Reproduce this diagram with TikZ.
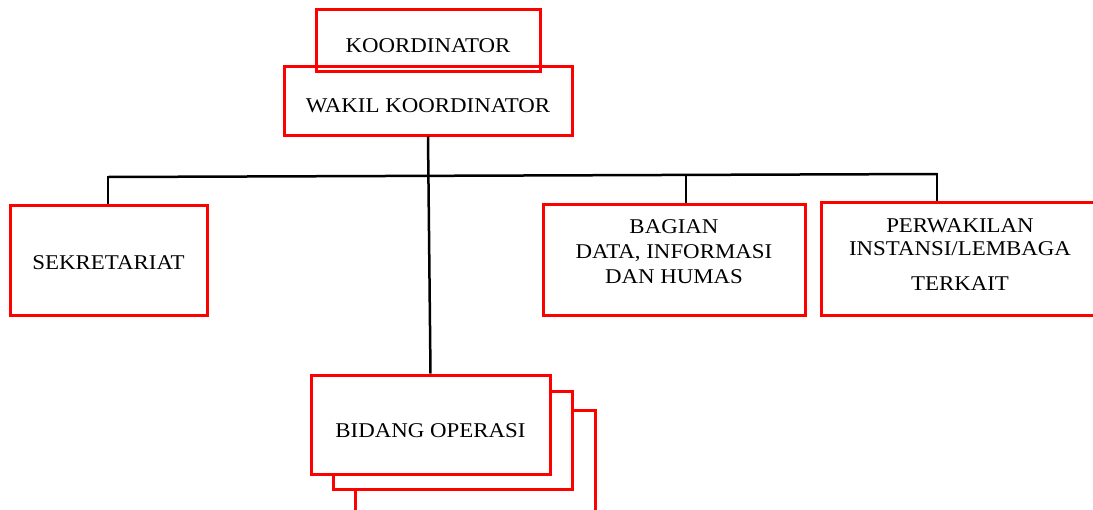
\documentclass[tikz,border=0pt]{standalone}
\usepackage{fontspec}
\setmainfont{Liberation Serif}[FakeStretch=1.09]
\begin{document}
\begin{tikzpicture}[x=1pt,y=-1pt,
  box/.style={draw=red, line width=3pt, inner sep=0pt, fill=white},
  obox/.style={draw=red, line width=3pt, inner sep=0pt},
  txt/.style={inner sep=0pt, align=center, font=\fontsize{21}{25}\selectfont},
  conn/.style={draw=black, line width=2.5pt}]
\clip (0,0) rectangle (1093,509);
\fill[white] (0,0) rectangle (1093,509);
% top boxes
\node[obox, minimum width=288pt, minimum height=69pt] (wakil) at (428,100.5) {};
\node[obox, minimum width=224pt, minimum height=62pt] (koord) at (428,40) {};
\node[txt] at (428,45.5) {KOORDINATOR};
\node[txt] at (428,106) {WAKIL KOORDINATOR};
% second level
\node[box, minimum width=197pt, minimum height=110pt] (sek) at (108.5,260) {};
\node[txt] at (108.5,263) {SEKRETARIAT};
\node[box, minimum width=262pt, minimum height=111pt] (bag) at (674,259.5) {};
\node[txt] at (674,252) {BAGIAN\\DATA, INFORMASI\\DAN HUMAS};
\node[box, minimum width=289pt, minimum height=113pt] (perw) at (965.5,258.5) {};
\node[txt] at (960,255) {PERWAKILAN\\[-2pt]INSTANSI/LEMBAGA\\[10pt]TERKAIT};
% bidang operasi stack
\node[box, minimum width=240pt, minimum height=104pt] (bid3) at (475,462) {};
\node[box, minimum width=239pt, minimum height=98pt] (bid2) at (452.5,440.5) {};
\node[box, minimum width=239pt, minimum height=99pt] (bid) at (430.5,424.5) {};
\node[txt] at (430.5,431) {BIDANG OPERASI};
% connectors
\coordinate (hl) at (108,177);
\coordinate (hr) at (937,174);
\coordinate (bagtop) at (686,175.5);
\draw[conn] (hl) -- (hr);
\draw[conn] (wakil.south) -- (bid.north);
\draw[conn] ([yshift=1.2pt]hl) -- (sek.north -| hl);
\draw[conn] (bagtop) -- (bag.north -| bagtop);
\draw[conn] ([yshift=1.2pt]hr) -- (perw.north -| hr);
\end{tikzpicture}
\end{document}
